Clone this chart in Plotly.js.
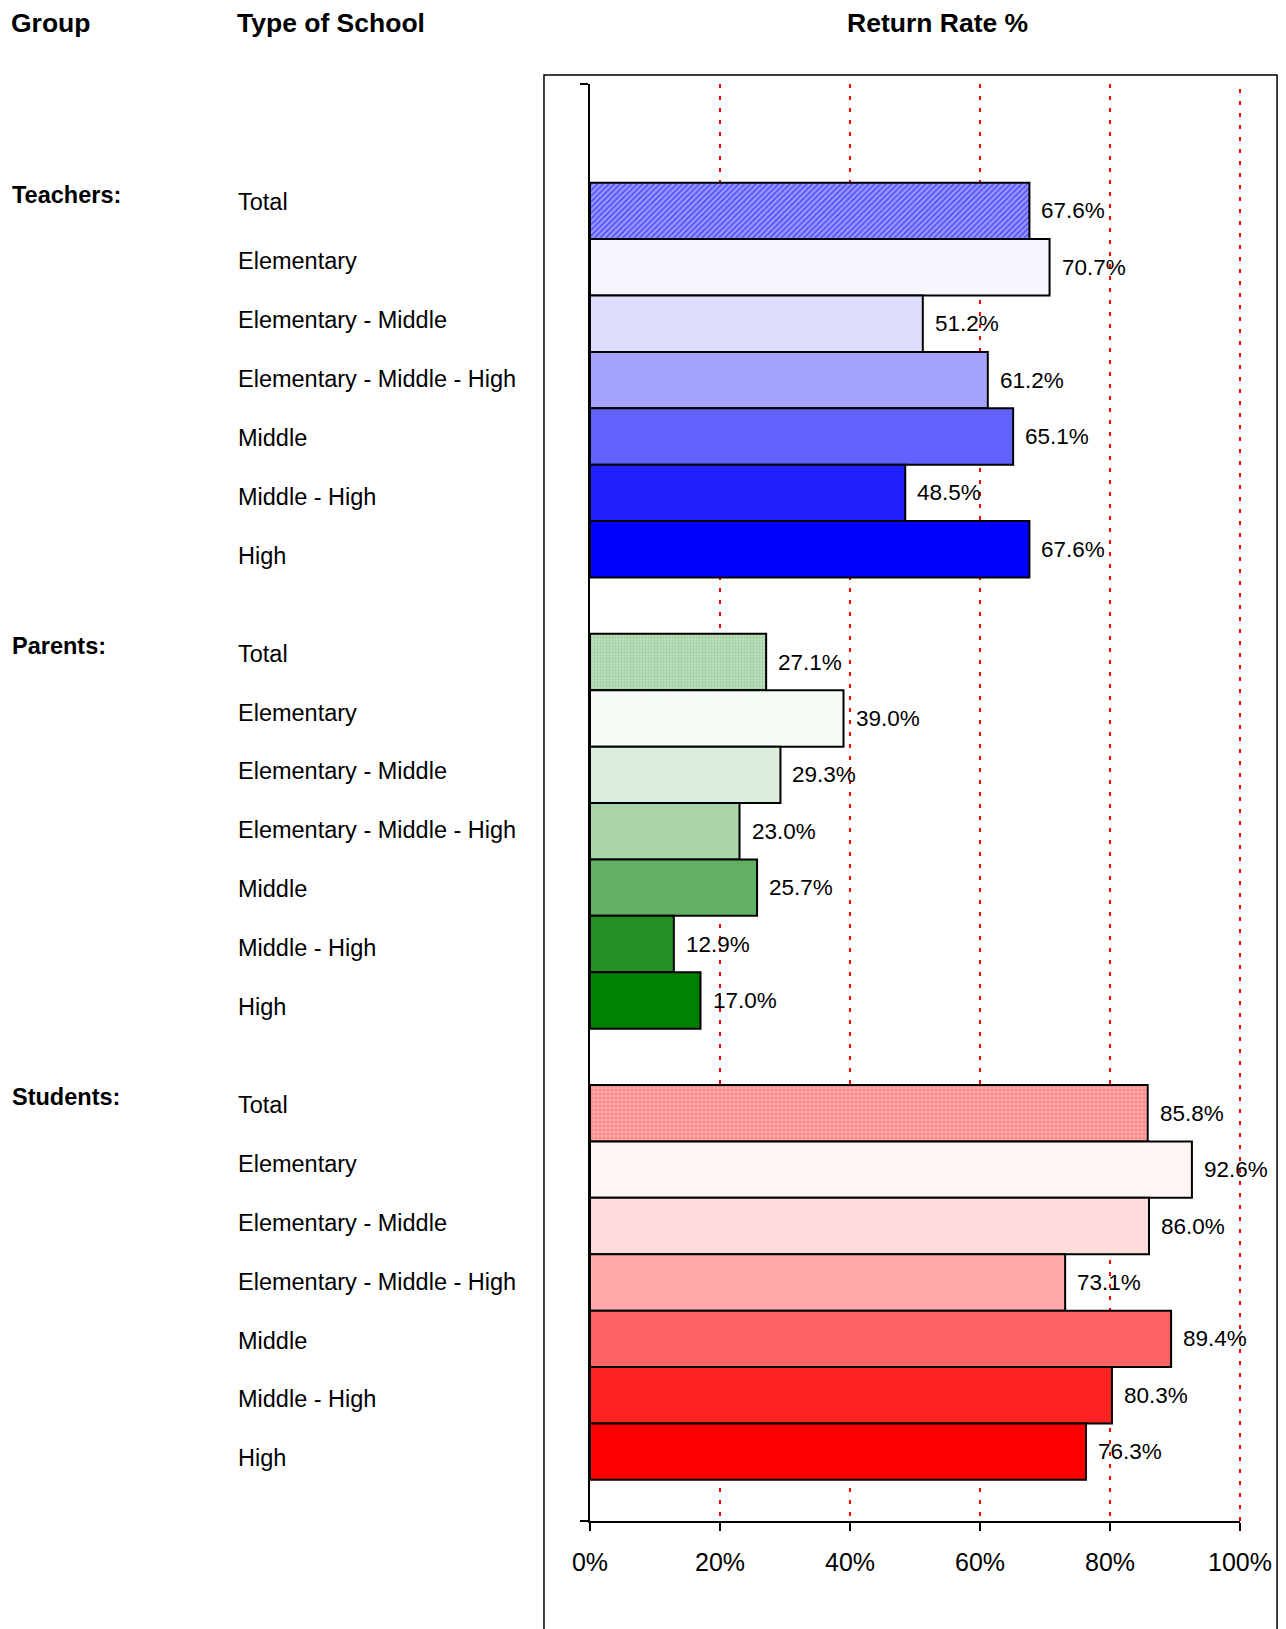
<!DOCTYPE html>
<html>
<head>
<meta charset="utf-8">
<script src="https://cdn.plot.ly/plotly-3.0.1.min.js"></script>
<style>html,body{margin:0;padding:0;background:#fff;}</style>
</head>
<body>
<div id="chart" style="width:1286px;height:1629px;"></div>
<script>
// ---- data ----
var groups = ['Teachers:', 'Parents:', 'Students:'];
var schoolTypes = ['Total', 'Elementary', 'Elementary - Middle', 'Elementary - Middle - High', 'Middle', 'Middle - High', 'High'];
var teachers = [67.6, 70.7, 51.2, 61.2, 65.1, 48.5, 67.6];
var parents  = [27.1, 39.0, 29.3, 23.0, 25.7, 12.9, 17.0];
var students = [85.8, 92.6, 86.0, 73.1, 89.4, 80.3, 76.3];
var xTicks = [0, 20, 40, 60, 80, 100];
var xTickLabels = ['0%', '20%', '40%', '60%', '80%', '100%'];

// ---- styles ----
var groupColors = [
  ['#9a9aff', '#f6f6ff', '#dedeff', '#a4a4ff', '#6262ff', '#2020ff', '#0000ff'],
  ['#c0e2c0', '#f5faf5', '#dceedc', '#aad4aa', '#62b062', '#229022', '#008000'],
  ['#ffb0b0', '#fff5f5', '#ffdcdc', '#ffaaaa', '#ff6262', '#ff2222', '#ff0000']
];
var totalPattern = [
  {shape: '/', fg: '#0000ff', size: 4, sol: 0.4},
  {shape: '.', fg: '#78b878', size: 3, sol: 0.45},
  {shape: '+', fg: '#ff3030', size: 4, sol: 0.35}
];
var FONT = 'Liberation Sans, Arial, sans-serif';
var labelStep = 1.045, labelOffset = -0.15;

var series = [teachers, parents, students];
var traces = [];
var annotations = [];
var slot = 8;

series.forEach(function (vals, g) {
  var ys = vals.map(function (v, i) { return g * slot + i; });
  // Total bar (patterned)
  traces.push({
    type: 'bar', orientation: 'h',
    x: vals.slice(0, 1), y: ys.slice(0, 1), width: 1,
    marker: {
      color: groupColors[g][0],
      line: {color: '#000000', width: 2},
      pattern: {shape: totalPattern[g].shape, fgcolor: totalPattern[g].fg, fillmode: 'overlay',
                size: totalPattern[g].size, solidity: totalPattern[g].sol}
    },
    hoverinfo: 'skip', showlegend: false
  });
  // School-type bars
  traces.push({
    type: 'bar', orientation: 'h',
    x: vals.slice(1), y: ys.slice(1), width: 1,
    marker: {color: groupColors[g].slice(1), line: {color: '#000000', width: 2}},
    hoverinfo: 'skip', showlegend: false
  });
  vals.forEach(function (v, i) {
    annotations.push({
      x: v, y: ys[i], xref: 'x', yref: 'y',
      text: v.toFixed(1) + '%',
      showarrow: false, xanchor: 'left', yanchor: 'middle', xshift: 10,
      font: {family: FONT, size: 22.5, color: '#000'}
    });
    annotations.push({
      x: -0.5446, y: g * slot + i * labelStep + labelOffset, xref: 'paper', yref: 'y',
      text: schoolTypes[i],
      showarrow: false, xanchor: 'left', yanchor: 'middle',
      font: {family: FONT, size: 23.5, color: '#000'}
    });
  });
  annotations.push({
    x: -0.893, y: ys[0], xref: 'paper', yref: 'y',
    text: '<b>' + groups[g] + '</b>',
    showarrow: false, xanchor: 'left', yanchor: 'middle', yshift: 16,
    font: {family: FONT, size: 23.5, color: '#000'}
  });
});

// headers
annotations.push({x: -0.894, y: 1.0424, xref: 'paper', yref: 'paper', text: '<b>Group</b>',
  showarrow: false, xanchor: 'left', yanchor: 'middle', font: {family: FONT, size: 26.5, color: '#000'}});
annotations.push({x: -0.546, y: 1.0424, xref: 'paper', yref: 'paper', text: '<b>Type of School</b>',
  showarrow: false, xanchor: 'left', yanchor: 'middle', font: {family: FONT, size: 26.5, color: '#000'}});
annotations.push({x: 0.534, y: 1.0424, xref: 'paper', yref: 'paper', text: '<b>Return Rate %</b>',
  showarrow: false, xanchor: 'center', yanchor: 'middle', font: {family: FONT, size: 26.5, color: '#000'}});

var yTop = -2.25, yBottom = 23.23;

var layout = {
  width: 1286, height: 1629,
  margin: {l: 590, r: 46, t: 84, b: 108, pad: 0},
  paper_bgcolor: '#ffffff', plot_bgcolor: '#ffffff',
  bargap: 0,
  font: {family: FONT, color: '#000'},
  xaxis: {
    range: [0, 100], tickvals: xTicks, ticktext: xTickLabels,
    showgrid: true, gridcolor: '#ff0000', gridwidth: 2, griddash: '4px,8px',
    zeroline: false, showline: true, linecolor: '#000', linewidth: 2,
    ticks: 'outside', ticklen: 8, tickwidth: 2, tickcolor: '#000',
    ticklabelstandoff: 10,
    tickfont: {family: FONT, size: 25, color: '#000'},
    fixedrange: true
  },
  yaxis: {
    range: [yBottom, yTop], tickvals: [yTop, yBottom], showticklabels: false,
    showgrid: false, zeroline: false, showline: true, linecolor: '#000', linewidth: 2,
    ticks: 'outside', ticklen: 8, tickwidth: 2, tickcolor: '#000',
    fixedrange: true
  },
  shapes: [
    {type: 'rect', xref: 'paper', yref: 'paper',
     x0: -0.0708, x1: 1.057, y0: -0.1, y1: 1.0063,
     line: {color: '#000', width: 1.5}, fillcolor: 'rgba(0,0,0,0)', layer: 'below'},
    {type: 'line', xref: 'paper', yref: 'paper', x0: 1, x1: 1, y0: 0, y1: 1,
     line: {color: '#ff0000', width: 2, dash: '4px,8px'}, layer: 'below'}
  ],
  annotations: annotations
};

Plotly.newPlot('chart', traces, layout, {displayModeBar: false, staticPlot: true});
</script>
</body>
</html>
